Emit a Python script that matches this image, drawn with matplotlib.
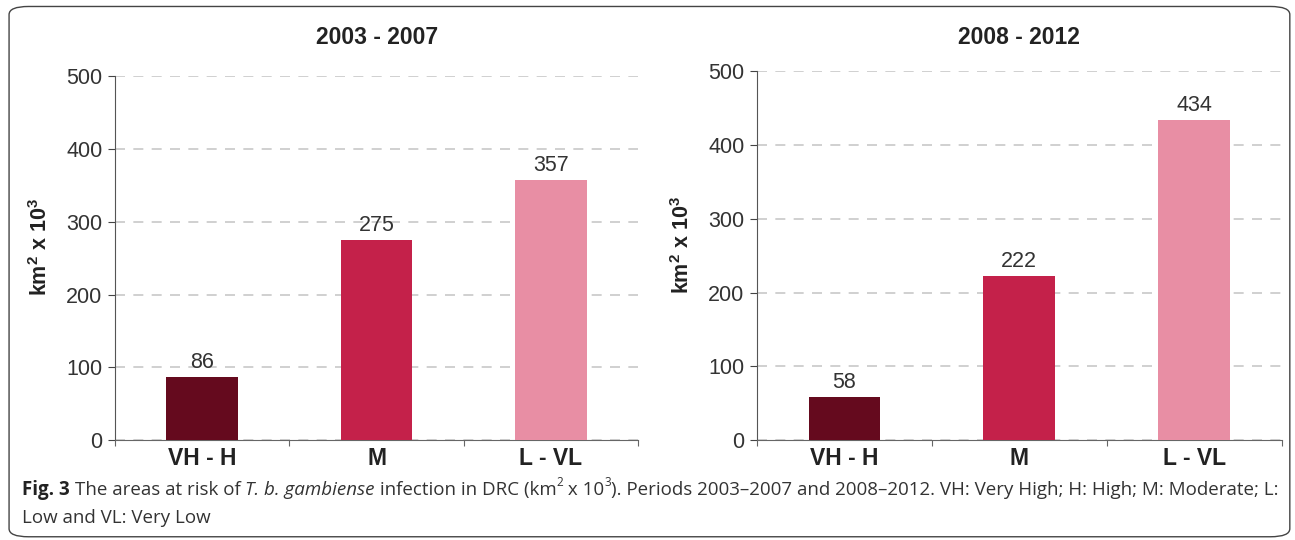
import matplotlib.pyplot as plt
from matplotlib.patches import FancyBboxPatch

categories = ['VH - H', 'M', 'L - VL']
periods = ['2003 - 2007', '2008 - 2012']
values_2003_2007 = [86, 275, 357]
values_2008_2012 = [58, 222, 434]
bar_colors = ['#650A1E', '#C4214A', '#E88EA4']
yticks = [0, 100, 200, 300, 400, 500]

plt.rcParams['font.family'] = ['Liberation Sans', 'DejaVu Sans']

fig = plt.figure(figsize=(12.95, 5.4), dpi=100)

# rounded frame around the whole figure
frame = FancyBboxPatch((0.007, 0.006), 0.989, 0.982, boxstyle='round,pad=0,rounding_size=0.015',
                       transform=fig.transFigure, fill=False, edgecolor='#444444', linewidth=1.0)
fig.patches.append(frame)

ax1 = fig.add_axes([0.0888, 0.185, 0.404, 0.674])
ax2 = fig.add_axes([0.5846, 0.185, 0.405, 0.683])

for ax, title, vals in zip([ax1, ax2], periods, [values_2003_2007, values_2008_2012]):
    x = range(len(categories))
    bars = ax.bar(x, vals, width=0.41, color=bar_colors, zorder=3)
    for b, v in zip(bars, vals):
        ax.annotate(str(v), (b.get_x() + b.get_width() / 2, v), xytext=(0, 3),
                    textcoords='offset points', ha='center', va='bottom',
                    fontsize=15.5, color='#333333')
    ax.set_xlim(-0.5, 2.5)
    ax.set_ylim(0, 500)
    ax.set_yticks(yticks)
    ax.tick_params(axis='y', labelsize=15.5, length=5, colors='#444444', labelcolor='#333333', pad=4)
    ax.set_xticks([-0.5, 0.5, 1.5, 2.5])
    ax.set_xticklabels([])
    ax.tick_params(axis='x', length=4, colors='#666666', direction='out')
    ax.set_xticks(list(x), minor=True)
    ax.set_xticklabels(categories, minor=True, fontsize=16.5, fontweight='bold', color='#222222')
    ax.tick_params(axis='x', which='minor', length=0, pad=5)
    ax.grid(axis='y', linestyle=(0, (6, 5)), color='#C8C8C8', linewidth=1.2, zorder=0)
    for s in ['top', 'right']:
        ax.spines[s].set_visible(False)
    ax.spines['left'].set_color('#555555')
    ax.spines['bottom'].set_color('#666666')
    pos = ax.get_position()
    fig.text((pos.x0 + pos.x1) / 2, 0.93, title, ha='center', va='center',
             fontsize=16.5, fontweight='bold', color='#222222')
    ax.set_ylabel('km$^{\\mathregular{2}}$ x 10$^{\\mathregular{3}}$', fontsize=15.5, fontweight='bold',
                  color='#222222')
    ax.yaxis.set_label_coords(-0.12, 0.53)

# caption, written piece by piece so the italic and bold parts line up
cap_font = ['Open Sans', 'DejaVu Sans']
cap_size = 13.5
renderer = fig.canvas.get_renderer()
xpos = 0.017
y1 = 0.093


def put(s, weight='normal', style='normal', y=y1, size=cap_size, dy=0.0):
    global xpos
    t = fig.text(xpos, y + dy, s, fontsize=size, fontweight=weight, fontstyle=style,
                 family=cap_font, color='#222222' if weight == 'bold' else '#333333', va='center')
    bb = t.get_window_extent(renderer=renderer)
    xpos += bb.width / fig.bbox.width
    return t


put('Fig. 3 ', 'bold')
put('The areas at risk of ')
put('T. b. gambiense', style='italic')
put(' infection in DRC (km')
put('2', size=8.5, dy=0.013)
put(' x 10')
put('3', size=8.5, dy=0.013)
put('). Periods 2003–2007 and 2008–2012. VH: Very High; H: High; M: Moderate; L:')
fig.text(0.017, 0.04, 'Low and VL: Very Low', fontsize=cap_size, family=cap_font,
         color='#333333', va='center')

fig.savefig('out.png', dpi=100)
